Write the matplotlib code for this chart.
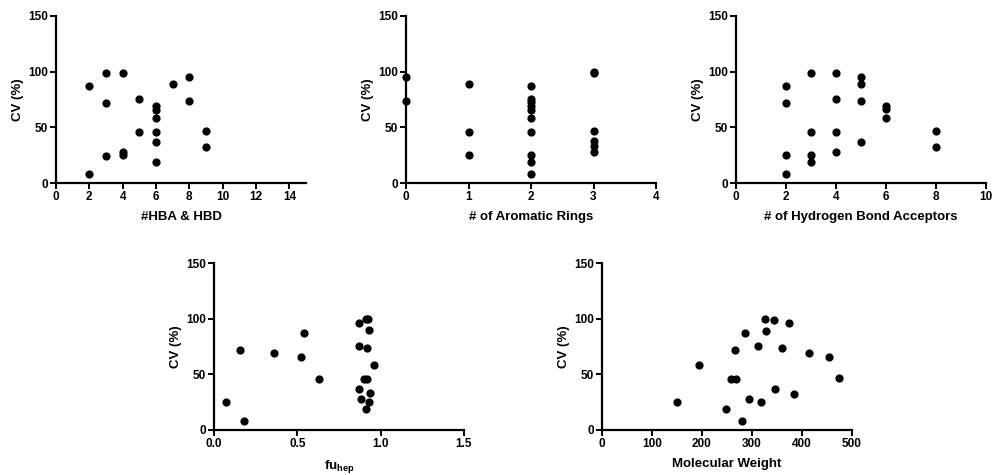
import matplotlib
matplotlib.use('Agg')
import matplotlib.pyplot as plt

plt.rcParams['font.family'] = ['Liberation Sans', 'DejaVu Sans']
plt.rcParams['font.weight'] = 'bold'
plt.rcParams['mathtext.fontset'] = 'custom'
plt.rcParams['mathtext.rm'] = 'Liberation Sans:bold'
plt.rcParams['mathtext.bf'] = 'Liberation Sans:bold'

# CV (%) per compound
hba_hbd = [2, 2, 3, 3, 3, 4, 4, 4, 5, 5, 6, 6, 6, 6, 6, 6, 7, 8, 8, 9, 9]
hba_hbd_cv = [87, 8.4, 99, 72, 24.5, 99, 28, 25, 75.4, 46, 69, 66, 58, 46, 37, 19, 89, 95.5, 73.6, 46.4, 32.3]

arom = [0, 0, 1, 1, 1, 2, 2, 2, 2, 2, 2, 2, 2, 2, 2, 3, 3, 3, 3, 3, 3]
arom_cv = [95.5, 73.6, 89, 45.5, 25.4, 87, 75.7, 72.5, 69, 66, 58, 46, 25, 18.6, 8.4, 99, 99.5, 46.7, 37.4, 33, 28]

hba = [2, 2, 2, 2, 3, 3, 3, 3, 4, 4, 4, 4, 5, 5, 5, 5, 6, 6, 6, 8, 8]
hba_cv = [87, 72, 25.4, 8.4, 99, 46, 25, 19, 99, 75.4, 46, 28, 95.5, 89, 73.6, 37, 69, 66.8, 58, 46.4, 32.3]

fu_hep = [0.07, 0.158, 0.182, 0.357, 0.519, 0.539, 0.629, 0.869, 0.909, 0.921, 0.929,
          0.869, 0.919, 0.959, 0.899, 0.919, 0.869, 0.879, 0.937, 0.929, 0.909]
fu_hep_cv = [24.9, 72, 8.4, 69.3, 66, 87.3, 46.2, 95.7, 99.3, 99.3, 89.4,
             75.6, 73.8, 58.8, 45.9, 46.2, 37.2, 28.2, 33.3, 25.5, 18.9]

mw = [150.7, 194, 248, 258, 268, 266, 280, 285, 293, 312, 318,
      325, 327, 343, 345, 360, 374, 383, 414, 454, 474]
mw_cv = [25.5, 58.8, 18.9, 46.2, 45.9, 71.7, 8.4, 87.3, 28.2, 75.6, 24.9,
         99.3, 89.1, 99, 37.2, 73.8, 95.7, 32.7, 69.3, 66, 46.5]

panels = [
    (hba_hbd, hba_hbd_cv, '#HBA & HBD', (0, 15), [0, 2, 4, 6, 8, 10, 12, 14], None),
    (arom, arom_cv, '# of Aromatic Rings', (0, 4), [0, 1, 2, 3, 4], None),
    (hba, hba_cv, '# of Hydrogen Bond Acceptors', (0, 10), [0, 2, 4, 6, 8, 10], None),
    (fu_hep, fu_hep_cv, r'fu$_{\mathbf{hep}}$', (0, 1.5), [0.0, 0.5, 1.0, 1.5], ['0.0', '0.5', '1.0', '1.5']),
    (mw, mw_cv, 'Molecular Weight', (0, 500), [0, 100, 200, 300, 400, 500], None),
]

W, H = 993, 475
boxes = [(56, 16), (406, 16), (736, 16), (214, 263), (602, 263)]
aw, ah = 250, 167

fig = plt.figure(figsize=(W / 100, H / 100), dpi=100)

for (x, y, label, xlim, xticks, xtl), (px, py) in zip(panels, boxes):
    ax = fig.add_axes([px / W, (H - py - ah) / H, aw / W, ah / H])
    ax.scatter(x, y, s=24, color='black', zorder=3, clip_on=False)
    ax.set_xlim(*xlim)
    ax.set_ylim(0, 150)
    ax.set_xticks(xticks)
    if xtl:
        ax.set_xticklabels(xtl)
    ax.set_yticks([0, 50, 100, 150])
    ax.set_xlabel(label, fontsize=9.5, fontweight='bold', labelpad=6)
    ax.set_ylabel('CV (%)', fontsize=9.5, fontweight='bold', labelpad=3)
    for side in ['top', 'right']:
        ax.spines[side].set_visible(False)
    for side in ['left', 'bottom']:
        ax.spines[side].set_linewidth(1.6)
    ax.tick_params(width=1.4, length=4, labelsize=8.5, pad=1.5)
    for t in ax.get_xticklabels() + ax.get_yticklabels():
        t.set_fontweight('bold')

fig.savefig('out.png', dpi=100)
